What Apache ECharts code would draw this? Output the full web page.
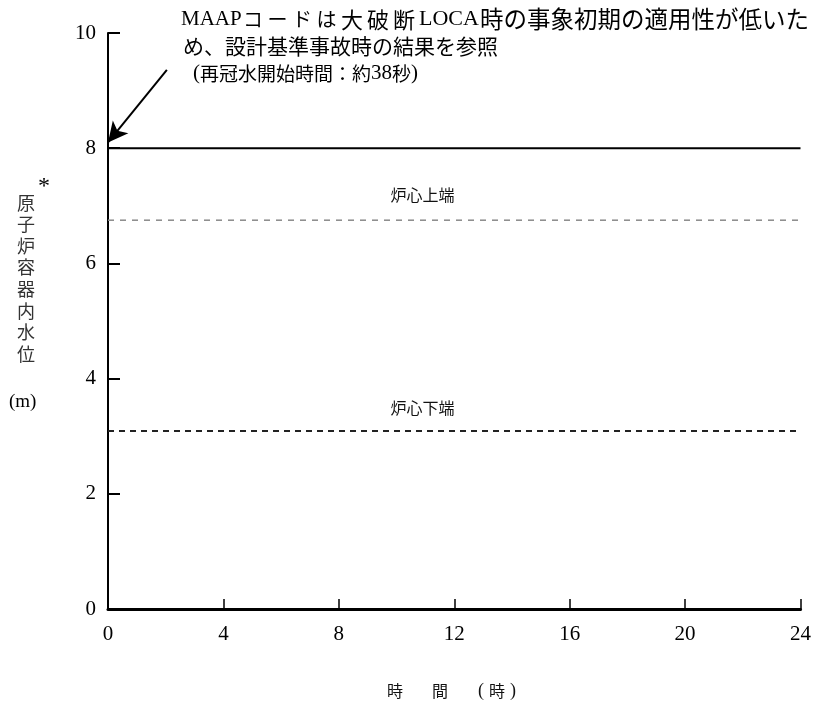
<!DOCTYPE html>
<html>
<head>
<meta charset="utf-8">
<script src="https://cdn.jsdelivr.net/npm/echarts@6/dist/echarts.min.js"></script>
<style>
html,body{margin:0;padding:0;background:#fff;}
#chart{width:814px;height:709px;}
</style>
</head>
<body>
<div id="chart"></div>
<script>
// ---- data ----
const timeRange = [0, 24];          // hours
const waterLevel = [8, 8];          // m, reactor vessel water level
const coreTopLevel = 6.75;          // m
const coreBottomLevel = 3.09;       // m
const xTicks = [0, 4, 8, 12, 16, 20, 24];
const yTicks = [0, 2, 4, 6, 8, 10];
const coreTopLabel = '炉心上端';
const coreBottomLabel = '炉心下端';
const labelHour = 10.9;
const arrowFrom = [2.04, 9.36];
const arrowTo = [0.0, 8.1];
const annotationText =
  '{a|MAAP}{k|コ}{k|ー}{k|ド}{k|は}{d|大}{d|破}{d|断}{a2|LOCA}{n|時の事象初期の適用性が低いた}\n' +
  '{s2|}{m|め、設計基準事故時の結果を参照}\n' +
  '{s3|}{p|(}{q|再冠水開始時間：約}{r|38}{q|秒}{p|)}';
const xName = '{t1|時}{t2|間}{pl|(}{t3|時}{pr|)}';
const yName = '原子炉容器内水位';

const SERIF = '"Liberation Serif","Noto Sans CJK JP",serif';
const CJK = '"Noto Sans CJK JP","Liberation Serif",sans-serif';

const chart = echarts.init(document.getElementById('chart'));

function pairs(xs, ys) { return xs.map((x, i) => [x, ys[i]]); }

chart.setOption({
  animation: false,
  backgroundColor: '#fff',
  grid: { left: 108, right: 13, top: 33, bottom: 100 },
  xAxis: {
    type: 'value', min: xTicks[0], max: xTicks[xTicks.length - 1], interval: 4,
    axisLine: { lineStyle: { color: '#000', width: 3 } },
    axisTick: { inside: true, length: 10, lineStyle: { color: '#000', width: 1.5 } },
    axisLabel: { color: '#000', fontFamily: SERIF, fontSize: 21, margin: 15 },
    splitLine: { show: false }
  },
  yAxis: {
    type: 'value', min: yTicks[0], max: yTicks[yTicks.length - 1], interval: 2,
    axisLine: { lineStyle: { color: '#000', width: 2 } },
    axisTick: { inside: true, length: 12, lineStyle: { color: '#000', width: 2 } },
    axisLabel: { color: '#000', fontFamily: SERIF, fontSize: 21, margin: 12 },
    splitLine: { show: false }
  },
  graphic: [
    {
      type: 'text', left: 181, top: 6,
      style: {
        text: annotationText,
        fill: '#000', lineHeight: 27,
        rich: {
          a:  { fontFamily: SERIF, fontSize: 21, width: 62, lineHeight: 27 },
          a2: { fontFamily: SERIF, fontSize: 22, width: 61, lineHeight: 27 },
          k:  { fontFamily: CJK, fontSize: 20, width: 24.5, lineHeight: 27 },
          d:  { fontFamily: CJK, fontSize: 22, width: 26, lineHeight: 27 },
          n:  { fontFamily: CJK, fontSize: 23.5, lineHeight: 27 },
          s2: { width: 2, lineHeight: 27 },
          m:  { fontFamily: CJK, fontSize: 21, lineHeight: 27 },
          s3: { width: 12, lineHeight: 27 },
          p:  { fontFamily: SERIF, fontSize: 21, lineHeight: 27 },
          q:  { fontFamily: CJK, fontSize: 19, lineHeight: 27 },
          r:  { fontFamily: SERIF, fontSize: 21, lineHeight: 27 }
        }
      }
    },
    {
      type: 'text', left: 387, top: 682,
      style: {
        text: xName, fill: '#111',
        rich: {
          t1: { fontFamily: CJK, fontSize: 16, width: 45 },
          t2: { fontFamily: CJK, fontSize: 16, width: 46 },
          pl: { fontFamily: SERIF, fontSize: 18, width: 11 },
          t3: { fontFamily: CJK, fontSize: 16, width: 21 },
          pr: { fontFamily: SERIF, fontSize: 18, width: 7 }
        }
      }
    },
    {
      type: 'text', left: 17, top: 192,
      style: {
        text: yName.split('').join('\n'),
        font: '18px ' + CJK, fill: '#333', lineHeight: 21.6
      }
    },
    {
      type: 'text', left: 38, top: 175,
      style: { text: '*', font: '24px ' + SERIF, fill: '#000' }
    },
    {
      type: 'text', left: 9, top: 393,
      style: { text: '(m)', font: '19px ' + SERIF, fill: '#000' }
    }
  ],
  series: [
    {
      type: 'line', data: pairs(timeRange, waterLevel), symbol: 'none',
      lineStyle: { color: '#000', width: 2 },
      markLine: {
        silent: true,
        symbol: ['none', 'arrow'], symbolSize: [15, 20],
        lineStyle: { color: '#000', width: 2, type: 'solid' },
        label: { show: false },
        data: [[{ coord: arrowFrom }, { coord: arrowTo }]]
      }
    },
    {
      type: 'line', data: pairs(timeRange, [coreTopLevel, coreTopLevel]), symbol: 'none',
      lineStyle: { color: '#8a8a8a', width: 1.5, type: [6, 6] },
      markPoint: {
        symbol: 'circle', symbolSize: 0,
        label: { show: true, position: 'top', distance: 17, formatter: coreTopLabel,
                 color: '#111', fontFamily: CJK, fontSize: 16 },
        data: [{ coord: [labelHour, coreTopLevel] }]
      }
    },
    {
      type: 'line', data: pairs(timeRange, [coreBottomLevel, coreBottomLevel]), symbol: 'none',
      lineStyle: { color: '#222', width: 1.8, type: [6, 5] },
      markPoint: {
        symbol: 'circle', symbolSize: 0,
        label: { show: true, position: 'top', distance: 15, formatter: coreBottomLabel,
                 color: '#111', fontFamily: CJK, fontSize: 16 },
        data: [{ coord: [labelHour, coreBottomLevel] }]
      }
    }
  ]
});
</script>
</body>
</html>
